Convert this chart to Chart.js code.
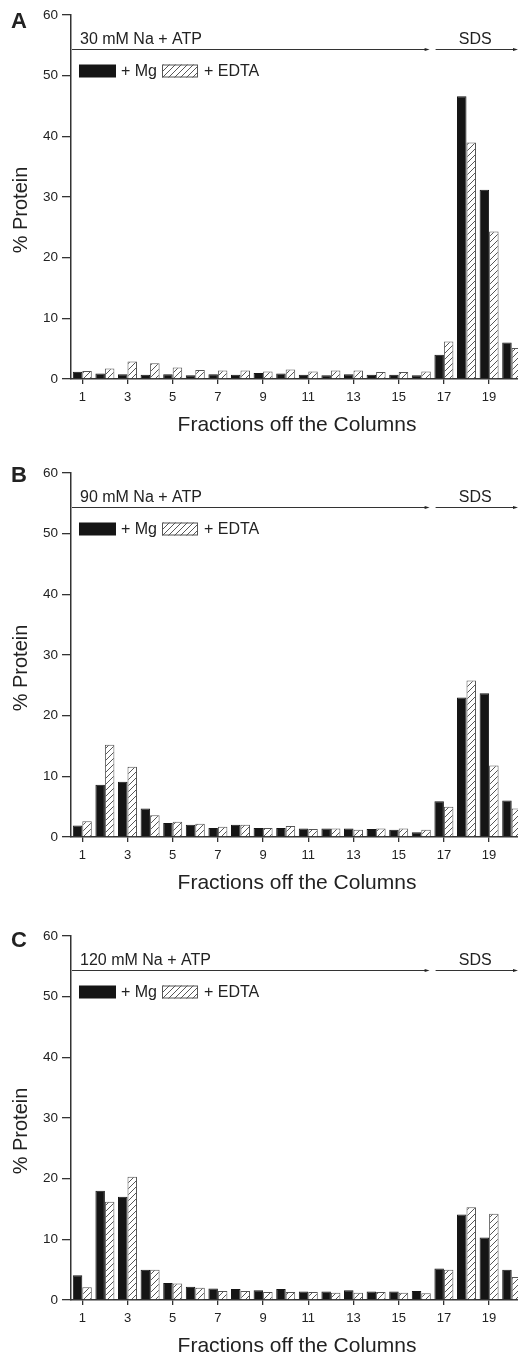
<!DOCTYPE html>
<html lang="en">
<head>
    <meta charset="UTF-8">
    <title>Fractions off the Columns</title>
    <script src="https://cdn.jsdelivr.net/npm/chart.js@4.4.1/dist/chart.umd.min.js"></script>
    <style>
    html, body {
      margin: 0;
      padding: 0;
      background: #fff;
      overflow: hidden;
    }
    .page {
      position: relative;
      width: 518px;
      height: 1357px;
      overflow: hidden;
    }
    .panel {
      position: absolute;
      left: 0;
      width: 523px;
      height: 436px;
    }
    </style>
</head>
<body>
    <div class="page">
        <div class="panel" style="top:0px"><canvas id="chartA" width="523" height="436"></canvas></div>
        <div class="panel" style="top:458px"><canvas id="chartB" width="523" height="436"></canvas></div>
        <div class="panel" style="top:921px"><canvas id="chartC" width="523" height="436"></canvas></div>
    </div>

    <script>
        // fractions collected off the columns
        const fractions = ['1', '2', '3', '4', '5', '6', '7', '8', '9', '10',
                           '11', '12', '13', '14', '15', '16', '17', '18', '19', '20'];

        // % protein per fraction
        const mgA   = [1.2, 0.9, 0.8, 0.7, 0.8, 0.6, 0.8, 0.7, 1.0, 0.9, 0.7, 0.6, 0.8, 0.7, 0.7, 0.6, 4.0, 46.6, 31.2, 6.0];
        const edtaA = [1.3, 1.75, 2.9, 2.6, 1.9, 1.5, 1.4, 1.4, 1.25, 1.55, 1.25, 1.4, 1.4, 1.15, 1.15, 1.25, 6.2, 39.0, 24.3, 5.1];

        const mgB   = [1.9, 8.6, 9.1, 4.7, 2.3, 2.0, 1.5, 2.0, 1.5, 1.5, 1.4, 1.4, 1.4, 1.3, 1.2, 0.8, 5.9, 23.0, 23.7, 6.0];
        const edtaB = [2.6, 15.2, 11.6, 3.6, 2.5, 2.2, 1.7, 2.0, 1.5, 1.8, 1.3, 1.4, 1.2, 1.4, 1.4, 1.2, 5.0, 25.8, 11.8, 4.7];

        const mgC   = [4.1, 18.0, 17.0, 5.0, 2.8, 2.2, 1.9, 1.8, 1.6, 1.8, 1.4, 1.4, 1.6, 1.4, 1.4, 1.5, 5.2, 14.1, 10.3, 5.0];
        const edtaC = [2.1, 16.2, 20.3, 5.0, 2.7, 2.0, 1.5, 1.5, 1.3, 1.3, 1.3, 1.2, 1.2, 1.3, 1.2, 1.1, 5.0, 15.3, 14.2, 3.8];

        const panelLetters = ['A', 'B', 'C'];
        const washLabels = ['30 mM Na + ATP', '90 mM Na + ATP', '120 mM Na + ATP'];
        const seriesNames = ['+ Mg', '+ EDTA'];

        const FONT = '"Liberation Sans", Arial, Helvetica, sans-serif';
        const INK = '#222';

        // diagonal hatch for the EDTA bars
        const makeHatch = () => {
            const s = 6;
            const c = document.createElement('canvas');
            c.width = s; c.height = s;
            const g = c.getContext('2d');
            g.fillStyle = '#fff';
            g.fillRect(0, 0, s, s);
            g.strokeStyle = '#444';
            g.lineWidth = 0.9;
            g.beginPath();
            g.moveTo(0, s); g.lineTo(s, 0);
            g.moveTo(-1, 1); g.lineTo(1, -1);
            g.moveTo(s - 1, s + 1); g.lineTo(s + 1, s - 1);
            g.stroke();
            return g.createPattern(c, 'repeat');
        };
        const hatch = makeHatch();

        const arrow = (ctx, x1, x2, yy) => {
            ctx.beginPath();
            ctx.moveTo(x1, yy);
            ctx.lineTo(x2 - 3, yy);
            ctx.stroke();
            ctx.beginPath();
            ctx.moveTo(x2, yy);
            ctx.lineTo(x2 - 5, yy - 1.6);
            ctx.lineTo(x2 - 5, yy + 1.6);
            ctx.closePath();
            ctx.fill();
        };

        // panel letter, y title, wash arrows and the little legend
        const figureDecor = {
            id: 'figureDecor',
            afterDraw(chart, args, opts) {
                const { ctx, chartArea: a, scales: { x, y } } = chart;
                ctx.save();
                ctx.fillStyle = INK;
                ctx.strokeStyle = '#333';
                ctx.lineWidth = 1;

                ctx.font = 'bold 22px ' + FONT;
                ctx.textAlign = 'left';
                ctx.textBaseline = 'middle';
                ctx.fillText(opts.letter, 11, opts.letterY);

                // y title sits a little below the middle of the axis in the original
                ctx.save();
                ctx.translate(21, (a.top + a.bottom) / 2 + 13);
                ctx.rotate(-Math.PI / 2);
                ctx.font = '20px ' + FONT;
                ctx.textAlign = 'center';
                ctx.fillText('% Protein', 0, 0);
                ctx.restore();

                const lineY = Math.round(y.getPixelForValue(54.4)) + 0.5;
                const split = (x.getPixelForValue(15) + x.getPixelForValue(16)) / 2;
                arrow(ctx, a.left + 1, split - 3, lineY);
                arrow(ctx, split + 3, 518, lineY);

                ctx.font = '16px ' + FONT;
                ctx.textBaseline = 'alphabetic';
                ctx.fillText(opts.wash, a.left + 9, lineY - 6);
                ctx.textAlign = 'center';
                ctx.fillText('SDS', (split + 518) / 2, lineY - 6);

                // legend
                const ds = chart.data.datasets;
                const boxTop = lineY + 15;
                ctx.textAlign = 'left';
                ctx.textBaseline = 'middle';
                ctx.fillStyle = ds[0].backgroundColor;
                ctx.fillRect(a.left + 8, boxTop, 37, 13);
                ctx.fillStyle = ds[1].backgroundColor;
                ctx.fillRect(a.left + 91, boxTop, 36, 13);
                ctx.strokeStyle = ds[1].borderColor;
                ctx.strokeRect(a.left + 91.5, boxTop + 0.5, 35, 12);
                ctx.fillStyle = INK;
                ctx.fillText(ds[0].label, a.left + 50, boxTop + 7);
                ctx.fillText(ds[1].label, a.left + 133, boxTop + 7);
                ctx.restore();
            }
        };

        const createFractionChart = (id, mg, edta, letter, letterY, wash) => {
            new Chart(document.getElementById(id), {
                type: 'bar',
                data: {
                    labels: fractions,
                    datasets: [{
                        label: seriesNames[0],
                        data: mg,
                        backgroundColor: '#151515',
                        borderColor: '#151515',
                        borderWidth: 1
                    }, {
                        label: seriesNames[1],
                        data: edta,
                        backgroundColor: hatch,
                        borderColor: '#555',
                        borderWidth: 1
                    }]
                },
                options: {
                    responsive: false,
                    animation: false,
                    devicePixelRatio: 1,
                    categoryPercentage: 0.84,
                    barPercentage: 1,
                    layout: { padding: { top: 15, left: 0, right: 0, bottom: 0 } },
                    plugins: {
                        legend: { display: false },
                        tooltip: { enabled: false },
                        figureDecor: { letter, letterY, wash }
                    },
                    scales: {
                        x: {
                            offset: true,
                            grid: { display: true, offset: false, drawOnChartArea: false, drawTicks: true, tickLength: 5, color: '#333', lineWidth: 1.3 },
                            border: { display: true, color: '#333', width: 1.5 },
                            ticks: {
                                autoSkip: false,
                                maxRotation: 0,
                                padding: 6,
                                color: INK,
                                font: { family: FONT, size: 13 },
                                callback: (v, i) => (i % 2 === 0 ? fractions[i] : null)
                            },
                            title: {
                                display: true,
                                text: 'Fractions off the Columns',
                                color: INK,
                                font: { family: FONT, size: 21, lineHeight: 1 },
                                padding: { top: 0, bottom: 0 }
                            },
                            afterFit: (scale) => { scale.height = 57; }
                        },
                        y: {
                            min: 0,
                            max: 60,
                            grid: { display: true, drawOnChartArea: false, drawTicks: true, tickLength: 9, color: '#333', lineWidth: 1.3 },
                            border: { display: true, color: '#333', width: 1.5 },
                            ticks: {
                                stepSize: 10,
                                padding: 4,
                                color: INK,
                                font: { family: FONT, size: 13.5 }
                            },
                            afterFit: (scale) => { scale.width = 71; }
                        }
                    }
                },
                plugins: [figureDecor]
            });
        };

        createFractionChart('chartA', mgA, edtaA, panelLetters[0], 22, washLabels[0]);
        createFractionChart('chartB', mgB, edtaB, panelLetters[1], 18, washLabels[1]);
        createFractionChart('chartC', mgC, edtaC, panelLetters[2], 20, washLabels[2]);
    </script>
</body>
</html>
